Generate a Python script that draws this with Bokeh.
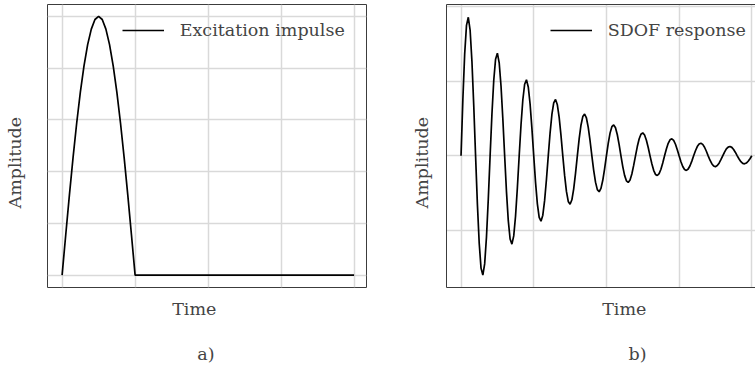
from bokeh.plotting import figure
from bokeh.models import Legend, LegendItem, LinearAxis, Range1d, Title, FixedTicker
from bokeh.layouts import row
from bokeh.embed import file_html
from bokeh.resources import INLINE

# ---------------- data ----------------
# a) excitation: half-sine impulse, then zero
pulse_t = [0.0, 0.05, 0.1, 0.15, 0.2, 0.25, 0.3, 0.35, 0.4, 0.45, 0.5,
           0.55, 0.6, 0.65, 0.7, 0.75, 0.8, 0.85, 0.9, 0.95, 1.0, 4.0]
pulse_amp = [0.000, 0.156, 0.309, 0.454, 0.588, 0.707, 0.809, 0.891, 0.951, 0.988, 1.000,
             0.988, 0.951, 0.891, 0.809, 0.707, 0.588, 0.454, 0.309, 0.156, 0.000, 0.000]

# b) SDOF response, sampled every resp_dt from resp_t0
resp_t0 = 0.0
resp_dt = 0.025
resp_amp = [
    0.000, 0.751, 1.362, 1.747, 1.856, 1.682, 1.264, 0.671, 0.000, -0.647, -1.172, -1.504, -1.597, -1.448, -1.088, -0.578,
    0.000, 0.557, 1.009, 1.294, 1.375, 1.246, 0.936, 0.497, 0.000, -0.479, -0.869, -1.114, -1.183, -1.073, -0.806, -0.428,
    0.000, 0.412, 0.748, 0.959, 1.018, 0.923, 0.694, 0.368, 0.000, -0.355, -0.643, -0.825, -0.876, -0.795, -0.597, -0.317,
    0.000, 0.305, 0.554, 0.710, 0.754, 0.684, 0.514, 0.273, 0.000, -0.263, -0.477, -0.611, -0.649, -0.589, -0.442, -0.235,
    0.000, 0.226, 0.410, 0.526, 0.559, 0.507, 0.381, 0.202, 0.000, -0.195, -0.353, -0.453, -0.481, -0.436, -0.328, -0.174,
    0.000, 0.168, 0.304, 0.390, 0.414, 0.375, 0.282, 0.150, 0.000, -0.144, -0.262, -0.335, -0.356, -0.323, -0.243, -0.129,
    0.000, 0.124, 0.225, 0.289, 0.307, 0.278, 0.209, 0.111, 0.000, -0.107, -0.194, -0.249, -0.264, -0.239, -0.180, -0.096,
    0.000, 0.092, 0.167, 0.214, 0.227, 0.206, 0.155, 0.082, 0.000, -0.079, -0.144, -0.184, -0.196, -0.177, -0.133, -0.071,
    0.000, 0.068, 0.124, 0.158, 0.168, 0.153, 0.115, 0.061, 0.000, -0.059, -0.106, -0.136, -0.145, -0.131, -0.099, -0.052,
    0.000, 0.050, 0.092, 0.117, 0.125, 0.113, 0.085, 0.045, 0.000, -0.043, -0.079, -0.101, -0.107, -0.097, -0.073, -0.039,
    0.000,
]
resp_t = [resp_t0 + i * resp_dt for i in range(len(resp_amp))]

x_ticks = [0, 1, 2, 3, 4]
pulse_y_ticks = [0.0, 0.2, 0.4, 0.6, 0.8, 1.0]
resp_y_ticks = [-1, 0, 1, 2]

pulse_label = "Excitation impulse"
resp_label = "SDOF response"
x_title = "Time"
y_title = "Amplitude"
captions = ["a)", "b)"]

# ---------------- style ----------------
FONT = "DejaVu Serif"
FS = "17.5px"
TXT = "#444444"
GRID = "#d9d9d9"
FRAME = "#3c3c3c"
LW = 1.7
H = 366
NBSP = "\u00a0"


def blank_axis(ax, gap=None, line_color=None):
    # an axis without ticks or labels; 'gap' reserves space via an empty 1px label
    ax.ticker = FixedTicker(ticks=[])
    ax.major_label_text_font_size = "0px"
    ax.major_label_standoff = 0
    ax.major_tick_line_color = None
    ax.minor_tick_line_color = None
    ax.major_tick_out = 0
    ax.major_tick_in = 0
    ax.minor_tick_out = 0
    ax.minor_tick_in = 0
    ax.axis_line_color = line_color
    if gap is not None:
        ax.axis_label = NBSP
        ax.axis_label_text_font_size = "1px"
        ax.axis_label_standoff = gap


def make_fig(width, bl, br, xr, yr, yticks, ygap):
    p = figure(width=width, height=H, x_range=Range1d(*xr), y_range=Range1d(*yr),
               output_backend="svg", toolbar_location=None,
               min_border_left=bl, min_border_right=br, min_border_top=4, min_border_bottom=79,
               background_fill_color="white", border_fill_color="white")
    p.xgrid.ticker = FixedTicker(ticks=x_ticks)
    p.ygrid.ticker = FixedTicker(ticks=yticks)
    blank_axis(p.xaxis[0], gap=7)
    blank_axis(p.yaxis[0], gap=ygap)
    p.grid.grid_line_color = GRID
    p.grid.grid_line_width = 1.5
    return p


def add_texts(p, time_off, cap_off, cap):
    tkw = dict(text_font=FONT, text_font_size=FS, text_color=TXT, text_font_style="normal")
    p.add_layout(Title(text=x_title, align="left", offset=time_off, vertical_align="top",
                       standoff=0, **tkw), "below")
    spacer = LinearAxis()
    blank_axis(spacer, gap=19)
    p.add_layout(spacer, "below")
    p.add_layout(Title(text=cap, align="left", offset=cap_off, vertical_align="top",
                       standoff=0, **tkw), "below")
    p.add_layout(Title(text=y_title, align="left", offset=79, vertical_align="middle",
                       standoff=0, **tkw), "left")


def add_legend(p, r, label, lx):
    leg = Legend(items=[LegendItem(label=label, renderers=[r])], location=(lx, 247),
                 border_line_color=None, background_fill_alpha=0, padding=0, margin=0,
                 spacing=0, glyph_width=42, glyph_height=20, label_height=20,
                 label_standoff=16, label_text_font=FONT, label_text_font_size=FS,
                 label_text_color=TXT)
    p.add_layout(leg)


# a) left panel
p1 = make_fig(396, 47, 30, (-0.2, 4.17), (-0.048, 1.046), pulse_y_ticks, 18)
p1.outline_line_color = FRAME
p1.outline_line_width = 1
r1 = p1.line(pulse_t, pulse_amp, line_color="black", line_width=LW)
add_legend(p1, r1, pulse_label, 74.7)
add_texts(p1, 124.7, 149.7, captions[0])

# b) right panel (clipped on the right edge)
p2 = make_fig(359, 50, 0, (-0.2, 4.051), (-1.764, 2.027), resp_y_ticks, 10)
p2.outline_line_color = None
p2.yaxis[0].axis_line_color = FRAME
p2.xaxis[0].axis_line_color = FRAME
top = LinearAxis()
blank_axis(top, line_color=FRAME)
p2.add_layout(top, "above")
r2 = p2.line(resp_t, resp_amp, line_color="black", line_width=LW)
add_legend(p2, r2, resp_label, 103.7)
add_texts(p2, 155.7, 182, captions[1])

layout = row(p1, p2)
open("out.html", "w").write(file_html(layout, INLINE))
